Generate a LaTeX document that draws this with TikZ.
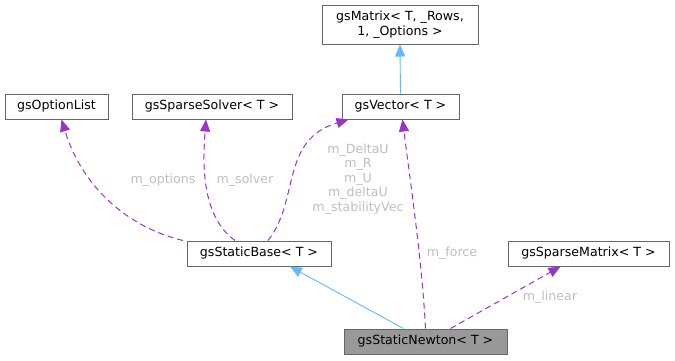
\documentclass[tikz,border=0pt]{standalone}
\usepackage{fontspec}
\setmainfont{DejaVu Sans}
\usetikzlibrary{arrows.meta}
\definecolor{inherit}{HTML}{63B8FF}
\definecolor{usage}{HTML}{9A32CD}
\definecolor{edgelabel}{HTML}{BEBEBE}
\definecolor{boxline}{HTML}{666666}
\tikzset{
  cls/.style={draw=boxline, fill=white, line width=1pt, inner sep=0pt,
    minimum height=25pt, font=\fontsize{12.6}{14.5}\selectfont, align=center},
  inh/.style={draw=inherit, line width=0.9pt, -{Triangle[length=12pt,width=10pt]}},
  use/.style={draw=usage, line width=1pt, dash pattern=on 6pt off 4pt,
    -{Triangle[length=12pt,width=10pt]}},
  lbl/.style={text=edgelabel, font=\fontsize{12.6}{14.5}\selectfont, align=center, inner sep=0pt}
}
\begin{document}
\begin{tikzpicture}[x=1pt,y=-1pt]
\useasboundingbox (0,0) rectangle (675,360);
% classes
\node[cls, minimum width=156pt, minimum height=39pt] (mat) at (400,24.5) {gsMatrix< T, \_Rows,\\1, \_Options >};
\node[cls, minimum width=117pt] (vec) at (400.5,106.5) {gsVector< T >};
\node[cls, minimum width=103pt] (opt) at (56.5,106.5) {gsOptionList};
\node[cls, minimum width=160pt] (sol) at (212,106.5) {gsSparseSolver< T >};
\node[cls, minimum width=144pt] (base) at (259,253.5) {gsStaticBase< T >};
\node[cls, minimum width=161pt] (spm) at (588.5,253.5) {gsSparseMatrix< T >};
\node[cls, minimum width=163pt, fill={rgb,255:red,153;green,153;blue,153}] (newt) at (425.5,341.5) {gsStaticNewton< T >};
% inheritance
\draw[inh] (vec.north) -- (mat.south);
\draw[inh] ([xshift=-22pt]newt.north) -- ([xshift=31pt]base.south);
% members
\draw[use] ([xshift=-76pt]base.north) .. controls (120,225) and (80,180) .. ([xshift=5pt]opt.south);
\node[lbl] (l1) at (163,180) {m\_options};
\draw[use] ([xshift=-24pt]base.north) .. controls (200,215) and (203,160) .. ([xshift=-6pt]sol.south);
\node[lbl] (l2) at (245,180) {m\_solver};
\draw[use] ([xshift=9pt]base.north) .. controls (300,200) and (280,140) .. ([xshift=-52pt]vec.south);
\node[lbl] (l3) at (358,179) {m\_DeltaU\\m\_R\\m\_U\\m\_deltaU\\m\_stabilityVec};
\draw[use] ([xshift=0pt]newt.north) .. controls (422,260) and (410,180) .. ([xshift=2pt]vec.south);
\node[lbl] (l4) at (452,253) {m\_force};
\draw[use] ([xshift=25pt]newt.north) -- ([xshift=-28pt]spm.south);
\node[lbl] (l5) at (550,297) {m\_linear};
\end{tikzpicture}
\end{document}
